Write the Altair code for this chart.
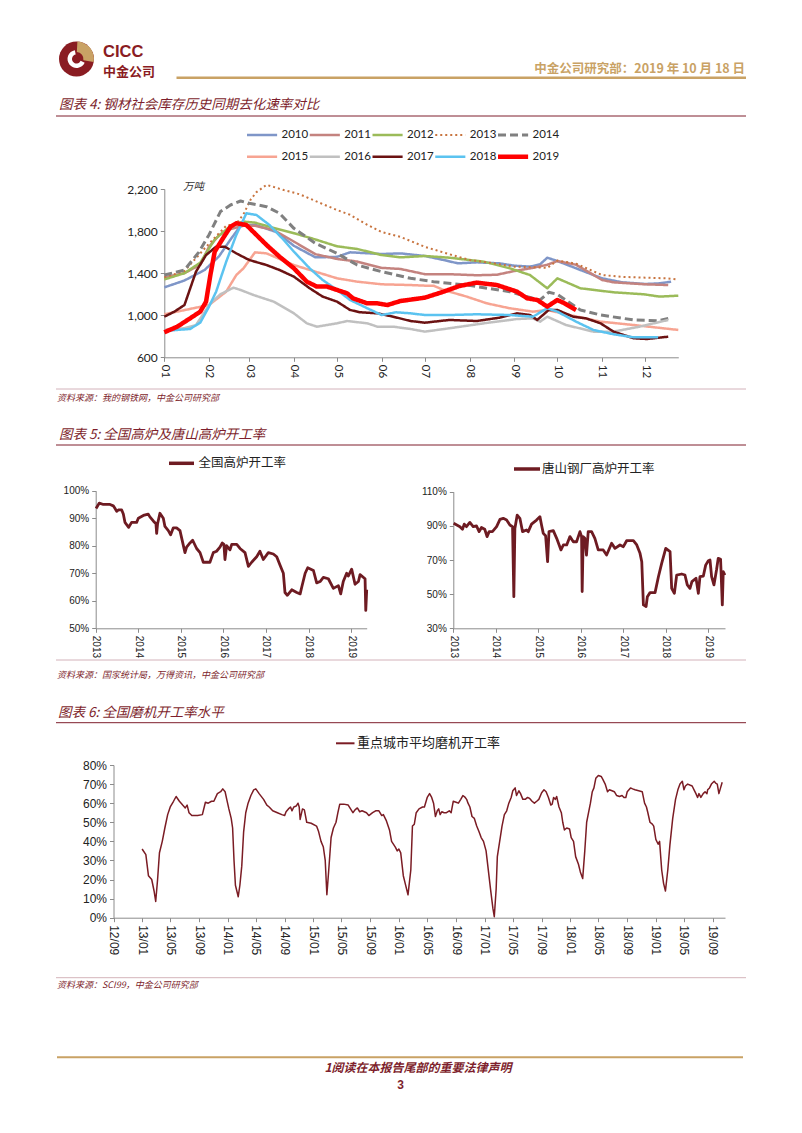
import altair as alt
import pandas as pd

# ------------------------------------------------------------------ DATA
# Figure 4: steel social inventory (10k tonnes), by calendar day of each year
years4 = ["2010", "2011", "2012", "2013", "2014", "2015", "2016", "2017", "2018", "2019"]
colors4 = ["#7F96C8", "#C4837F", "#9BBB59", "#C8743F", "#808080",
           "#F7A492", "#C0C0C0", "#6B1212", "#5BC3F0", "#FF0000"]

d2010 = ["01-01","01-15","01-29","02-08","02-16","02-23","03-05","03-20","04-01","04-16","05-01","05-10","06-01","06-14","07-01","07-14","07-24","08-06","08-22","09-01","09-12","09-19","09-24","10-01","10-17","11-01","11-15","12-01","12-11","12-19"]
v2010 = [1265,1330,1430,1560,1720,1850,1860,1790,1660,1550,1555,1598,1582,1588,1563,1525,1493,1503,1493,1471,1462,1484,1547,1515,1430,1351,1313,1297,1303,1319]
d2011 = ["01-01","01-15","01-26","02-01","02-08","02-16","02-25","03-05","03-18","04-01","04-16","05-01","05-15","06-01","06-14","07-01","07-18","08-06","08-20","09-01","09-14","09-24","10-01","10-14","11-01","11-09","12-01","12-17"]
v2011 = [1360,1400,1480,1650,1760,1820,1850,1850,1810,1700,1580,1535,1510,1450,1440,1390,1390,1380,1385,1420,1450,1480,1515,1480,1335,1313,1294,1287]
d2012 = ["01-01","01-15","01-26","02-05","02-16","02-25","03-05","03-18","04-01","04-16","05-01","05-15","06-01","06-14","07-01","07-18","08-11","08-29","09-12","09-24","10-01","10-17","11-09","11-30","12-11","12-24"]
v2012 = [1340,1400,1500,1720,1850,1890,1880,1830,1780,1720,1655,1630,1572,1550,1563,1547,1509,1446,1382,1256,1351,1256,1218,1199,1177,1186]
d2013 = ["01-01","01-15","02-01","02-13","02-20","02-25","03-02","03-06","03-13","03-25","04-05","04-17","05-01","05-10","05-22","06-01","06-14","07-01","07-18","08-01","08-15","09-01","09-17","09-24","10-01","10-14","11-01","11-15","12-01","12-17","12-24"]
v2013 = [1360,1420,1680,1850,1870,1960,2100,2170,2240,2190,2150,2080,2000,1955,1860,1790,1745,1650,1580,1525,1500,1462,1455,1450,1520,1490,1382,1365,1357,1350,1340]
d2014 = ["01-01","01-15","01-25","02-01","02-09","02-16","02-23","03-01","03-13","03-22","04-01","04-16","05-01","05-15","06-01","06-21","07-07","07-30","08-29","09-14","09-19","09-25","10-01","10-17","10-31","11-23","12-10","12-17"]
v2014 = [1382,1430,1600,1763,1985,2048,2086,2064,2032,1969,1826,1683,1588,1477,1414,1351,1319,1287,1224,1161,1145,1218,1199,1050,1002,955,948,970]
d2015 = ["01-01","02-01","02-13","02-20","02-25","03-05","03-13","04-01","04-16","05-01","05-15","06-01","06-21","07-01","07-07","07-14","07-30","08-13","08-29","09-14","09-24","10-07","10-31","11-23","12-24"]
v2015 = [1009,1097,1224,1382,1446,1598,1588,1477,1414,1351,1319,1294,1287,1281,1281,1240,1177,1113,1066,1034,1050,1009,939,907,860]
d2016 = ["01-01","01-15","01-23","02-02","02-09","02-18","02-23","03-04","03-18","04-01","04-10","04-17","05-01","05-08","05-22","05-29","06-09","06-21","07-01","07-18","08-11","09-03","09-14","09-19","09-24","10-07","10-26","11-09","11-27","12-17"]
v2016 = [860,876,907,1113,1199,1262,1240,1192,1129,1018,923,891,923,945,923,891,891,869,844,876,923,964,970,939,986,907,844,844,891,955]
d2017 = ["01-01","01-08","01-15","01-23","01-30","02-06","02-12","02-20","03-01","03-13","03-22","04-01","04-12","04-21","05-01","05-10","05-17","05-29","06-09","06-21","07-01","07-18","08-06","08-22","09-03","09-12","09-17","09-25","10-01","10-12","10-21","10-31","11-09","11-23","12-02","12-11","12-17"]
v2017 = [986,1034,1097,1414,1572,1652,1652,1588,1525,1477,1430,1367,1256,1177,1129,1050,1028,1018,986,945,929,955,945,977,1018,1002,955,1050,1050,986,970,923,844,781,774,787,796]
d2018 = ["01-01","01-19","01-26","02-01","02-06","02-13","02-20","02-27","03-06","03-15","03-25","04-01","04-12","04-21","05-01","05-10","05-22","06-01","06-11","06-21","07-01","07-18","08-06","08-29","09-14","09-24","10-01","10-14","10-26","11-09","11-23","12-10"]
v2018 = [850,870,930,1080,1224,1509,1763,1969,1953,1858,1715,1604,1446,1335,1240,1145,1066,1002,1028,1018,1002,1002,1009,1002,986,1066,1034,939,860,819,790,790]
d2019 = ["01-01","01-10","01-19","01-26","01-30","02-02","02-05","02-10","02-16","02-20","02-27","03-06","03-13","03-22","04-01","04-10","04-17","04-24","05-01","05-08","05-12","05-22","05-29","06-05","06-14","07-01","07-14","07-25","08-06","08-20","09-03","09-10","09-17","09-24","10-01","10-06","10-14"]
v2019 = [838,891,971,1034,1129,1382,1604,1715,1842,1874,1858,1763,1668,1557,1446,1319,1272,1272,1240,1208,1161,1113,1113,1097,1135,1167,1224,1278,1310,1287,1224,1161,1145,1082,1145,1113,1050]
y4_ticks = [600, 1000, 1400, 1800, 2200]

# Figure 5 (left): national blast furnace utilisation (%)
bf_name = "全国高炉开工率"
bf_dates = ["2013-01-04","2013-02-01","2013-03-08","2013-05-04","2013-06-01","2013-06-16","2013-06-30","2013-07-14","2013-08-12","2013-08-26","2013-09-09","2013-10-11","2013-11-05","2013-12-18","2014-01-02","2014-02-14","2014-03-28","2014-04-11","2014-05-10","2014-06-02","2014-06-08","2014-06-16","2014-07-06","2014-08-04","2014-08-18","2014-09-16","2014-10-06","2014-10-29","2014-11-26","2014-12-25","2015-02-06","2015-02-20","2015-03-21","2015-04-13","2015-05-17","2015-06-15","2015-07-13","2015-09-08","2015-10-07","2015-11-04","2015-12-03","2015-12-23","2016-01-06","2016-01-15","2016-01-29","2016-02-27","2016-03-13","2016-04-25","2016-05-23","2016-07-05","2016-08-03","2016-08-31","2016-10-13","2016-11-10","2016-12-09","2017-01-21","2017-03-05","2017-04-03","2017-05-01","2017-05-30","2017-06-13","2017-07-03","2017-08-10","2017-09-22","2017-10-21","2017-11-04","2017-12-03","2017-12-25","2018-02-12","2018-03-12","2018-04-10","2018-05-08","2018-06-20","2018-08-02","2018-09-14","2018-10-04","2018-10-26","2018-11-24","2018-12-08","2019-01-06","2019-02-04","2019-03-05","2019-03-19","2019-05-01","2019-05-07","2019-05-15"]
bf_vals = [93.5,95.5,95.0,95.0,94.5,93.5,92.5,93.0,93.0,91.5,88.5,86.7,88.5,88.5,90.0,91.0,91.5,90.5,89.0,88.0,84.5,88.0,91.8,90.0,87.0,85.5,84.0,86.5,86.5,85.5,77.5,79.5,81.0,82.0,79.0,77.5,74.0,74.0,77.5,78.0,79.5,81.0,80.5,75.0,80.0,78.5,80.5,80.5,79.0,77.5,72.5,74.0,76.0,78.0,75.0,77.5,77.0,76.0,73.0,70.0,63.0,62.0,64.0,63.0,62.5,65.0,70.0,72.0,71.0,66.5,67.0,68.5,68.0,64.5,65.5,62.5,67.0,70.0,69.0,71.5,66.0,67.0,69.5,68.0,56.5,64.0]
bf_ticks = [0.5, 0.6, 0.7, 0.8, 0.9, 1.0]

# Figure 5 (right): Tangshan mills blast furnace utilisation (%)
ts_name = "唐山钢厂高炉开工率"
ts_dates = ["2013-01-04","2013-01-31","2013-02-27","2013-03-21","2013-04-05","2013-04-24","2013-05-23","2013-06-21","2013-07-19","2013-08-11","2013-08-31","2013-09-28","2013-10-18","2013-11-05","2013-12-03","2014-01-08","2014-02-06","2014-03-06","2014-04-04","2014-05-02","2014-05-25","2014-06-05","2014-06-14","2014-07-04","2014-07-27","2014-08-19","2014-09-22","2014-10-07","2014-11-04","2014-12-17","2015-01-15","2015-01-29","2015-02-13","2015-03-05","2015-03-22","2015-04-03","2015-05-10","2015-06-08","2015-07-15","2015-08-04","2015-09-02","2015-09-30","2015-10-29","2015-11-26","2015-12-25","2016-01-08","2016-01-13","2016-01-22","2016-02-05","2016-02-19","2016-03-05","2016-04-03","2016-05-01","2016-05-30","2016-07-12","2016-08-10","2016-09-22","2016-10-21","2016-12-03","2017-01-01","2017-01-29","2017-03-28","2017-04-26","2017-05-24","2017-06-08","2017-06-22","2017-07-15","2017-07-26","2017-08-18","2017-09-30","2017-10-29","2017-11-26","2017-12-31","2018-02-06","2018-02-20","2018-03-15","2018-04-04","2018-05-17","2018-06-14","2018-07-04","2018-07-27","2018-08-13","2018-09-17","2018-10-07","2018-10-21","2018-11-19","2018-12-09","2019-01-01","2019-01-15","2019-01-29","2019-02-18","2019-03-12","2019-03-27","2019-04-16","2019-05-01","2019-05-09","2019-05-23"]
ts_vals = [91.5,90.5,89.5,88.0,91.0,89.5,92.0,89.5,90.0,86.6,89.0,88.0,83.7,86.6,86.6,89.5,93.8,94.4,93.4,90.5,89.5,48.5,88.5,96.3,94.4,86.6,87.6,86.6,91.0,93.4,95.4,90.5,85.6,84.2,69.0,86.6,87.2,82.7,75.9,78.8,78.8,83.7,80.7,80.7,86.6,83.7,51.5,83.7,82.7,72.9,86.6,86.6,82.7,75.9,75.9,72.9,79.8,76.8,78.8,77.8,81.3,81.3,78.8,73.9,69.0,43.7,42.7,48.5,50.9,50.9,60.2,68.0,76.8,74.9,53.4,50.5,61.2,61.8,61.2,55.4,53.4,57.3,59.3,50.5,60.2,60.6,67.0,69.6,70.0,60.2,55.4,64.1,71.0,70.4,43.7,63.2,61.2]
ts_ticks = [0.3, 0.5, 0.7, 0.9, 1.1]

# Figure 6: average grinding mill utilisation in key cities (%)
gm_name = "重点城市平均磨机开工率"
gm_dates = ["2013-01-01","2013-01-17","2013-01-28","2013-02-11","2013-02-21","2013-02-28","2013-03-08","2013-03-16","2013-03-28","2013-04-08","2013-04-20","2013-05-01","2013-05-15","2013-05-26","2013-06-09","2013-06-23","2013-07-04","2013-07-12","2013-07-20","2013-08-01","2013-08-26","2013-09-15","2013-09-28","2013-10-10","2013-10-24","2013-11-03","2013-11-18","2013-12-02","2013-12-11","2013-12-21","2013-12-28","2014-01-06","2014-01-16","2014-01-22","2014-01-28","2014-02-03","2014-02-15","2014-02-22","2014-03-02","2014-03-10","2014-03-19","2014-03-29","2014-04-10","2014-04-22","2014-05-01","2014-05-15","2014-06-03","2014-06-17","2014-06-27","2014-07-12","2014-08-01","2014-08-20","2014-09-01","2014-09-07","2014-09-17","2014-09-26","2014-10-02","2014-10-10","2014-10-20","2014-10-28","2014-11-02","2014-11-06","2014-11-16","2014-11-24","2014-12-04","2014-12-23","2015-01-15","2015-01-24","2015-02-03","2015-02-13","2015-02-21","2015-02-28","2015-03-08","2015-03-18","2015-03-28","2015-04-08","2015-04-16","2015-04-24","2015-05-11","2015-05-30","2015-06-09","2015-06-19","2015-06-28","2015-07-08","2015-07-18","2015-07-28","2015-08-16","2015-08-26","2015-09-11","2015-09-24","2015-10-08","2015-10-20","2015-10-27","2015-11-08","2015-11-22","2015-12-01","2015-12-17","2015-12-25","2016-01-01","2016-01-09","2016-01-20","2016-01-28","2016-02-09","2016-02-21","2016-02-28","2016-03-07","2016-03-15","2016-03-27","2016-04-11","2016-04-19","2016-05-01","2016-05-11","2016-05-20","2016-05-28","2016-06-05","2016-06-13","2016-06-19","2016-06-25","2016-07-02","2016-07-12","2016-07-22","2016-08-03","2016-08-11","2016-08-20","2016-09-01","2016-09-11","2016-09-21","2016-09-30","2016-10-10","2016-10-16","2016-10-22","2016-10-30","2016-11-08","2016-11-18","2016-11-28","2016-12-08","2016-12-17","2016-12-27","2017-01-07","2017-01-26","2017-02-05","2017-02-11","2017-02-19","2017-02-24","2017-03-06","2017-03-16","2017-03-26","2017-04-05","2017-04-14","2017-04-24","2017-05-01","2017-05-11","2017-05-17","2017-05-27","2017-06-03","2017-06-13","2017-06-23","2017-07-03","2017-07-12","2017-07-22","2017-08-01","2017-08-11","2017-08-20","2017-09-01","2017-09-11","2017-09-20","2017-09-30","2017-10-10","2017-10-16","2017-10-22","2017-10-29","2017-11-04","2017-11-14","2017-11-24","2017-11-30","2017-12-07","2017-12-17","2017-12-29","2018-01-05","2018-01-15","2018-01-24","2018-02-05","2018-02-13","2018-02-23","2018-03-04","2018-03-12","2018-03-20","2018-03-28","2018-04-05","2018-04-12","2018-04-20","2018-05-01","2018-05-13","2018-05-20","2018-05-30","2018-06-09","2018-06-17","2018-06-28","2018-07-08","2018-07-18","2018-07-30","2018-08-10","2018-08-18","2018-08-26","2018-09-01","2018-09-15","2018-09-24","2018-10-04","2018-10-20","2018-11-04","2018-11-14","2018-11-22","2018-11-28","2018-12-07","2018-12-17","2018-12-23","2019-01-01","2019-01-11","2019-01-17","2019-01-26","2019-02-03","2019-02-11","2019-02-21","2019-03-02","2019-03-14","2019-03-26","2019-04-05","2019-04-14","2019-04-24","2019-05-01","2019-05-07","2019-05-17","2019-05-26","2019-06-05","2019-06-13","2019-06-21","2019-06-28","2019-07-04","2019-07-12","2019-07-22","2019-07-30","2019-08-07","2019-08-10","2019-08-18","2019-08-26","2019-09-07","2019-09-13","2019-09-20","2019-09-27","2019-10-04","2019-10-11"]
gm_vals = [36,33,22,20,14,8.5,20,34,40,47,54,58,61,63.5,61,59,57.5,59,55,53.5,53.5,54,60.5,60,61,61,65,66,67.5,66,62,57,52,47,30,17,11,17,27,45,55,60,64,67,67.5,65,62,59,58,56,55,54,53.5,55.5,57,58,56,58,58.5,60,58,51.5,57,56.5,50,49.5,48,45,40,37,30,12,25,42,47,50,55,59.5,59.5,59,57,55,56.5,57.5,55.5,56,55,53.5,55,56,56,53.5,54,51,46,40,37,35,36,34,22,18,12,25,48,49,55,57,58,58,63,65,63,60,53,56,57,54,55.5,55,55,56,55,61,60.5,60,62,64,63,62,60,58,53,52,48,45,42,40,35,15,5,0.5,15,32,40,48,54,56,60,63,66.5,68,64,66.5,65,62,62,63,62.5,61,60,61,62,65.5,67,66,63,59,59.5,63,62,63.5,58,55,50,46,47,46.5,42,40,32,28,24,20.5,35,50,55,60,66,68,73,74.5,74,72.5,70,66,67,66.5,66,64,63.5,64,63,63,66,68,67.5,67,66.5,66,60,58,55,50,49,48,41,38.5,40,25,18,14,25,38,52,62,67,70,71.5,67,69,70,69.5,69,67,65,63,65,63,65,66,65,67,68,70,71.5,70.5,70,65,68,71]
gm_ticks = [0.0, 0.1, 0.2, 0.3, 0.4, 0.5, 0.6, 0.7, 0.8]

# ------------------------------------------------------------------ TABLES
series4 = {"2010": (d2010, v2010), "2011": (d2011, v2011), "2012": (d2012, v2012),
           "2013": (d2013, v2013), "2014": (d2014, v2014), "2015": (d2015, v2015),
           "2016": (d2016, v2016), "2017": (d2017, v2017), "2018": (d2018, v2018),
           "2019": (d2019, v2019)}
rows = []
for yr in years4:
    ds, vs = series4[yr]
    for d, v in zip(ds, vs):
        rows.append({"year": yr, "date": "2019-" + d + "T00:00:00", "value": v})
df4 = pd.DataFrame(rows)

leg4 = pd.DataFrame({"year": years4,
                     "col": [i % 5 for i in range(len(years4))],
                     "row": [i // 5 for i in range(len(years4))]})
leg4["col_end"] = leg4["col"] + 0.48
leg4["col_txt"] = leg4["col"] + 0.55

df_bf = pd.DataFrame({"date": [d + "T00:00:00" for d in bf_dates], "value": [v / 100 for v in bf_vals]})
df_ts = pd.DataFrame({"date": [d + "T00:00:00" for d in ts_dates], "value": [v / 100 for v in ts_vals]})
df_gm = pd.DataFrame({"date": [d + "T00:00:00" for d in gm_dates], "value": [v / 100 for v in gm_vals]})

# ------------------------------------------------------------------ STYLE
W, H = 786, 1117
CJK = "Noto Sans CJK SC"
LAT = "Liberation Sans"
CAL = "Lato"
RED = "#7E1F2D"
GOLD = "#C9A265"
AX = "#8C8C8C"
LINE5 = "#6E1B22"
LINE6 = "#7B1C24"
dashes4 = [[1, 0], [1, 0], [1, 0], [2, 3], [8, 4], [1, 0], [1, 0], [1, 0], [1, 0], [1, 0]]
widths4 = [2.5, 2.5, 2.5, 2, 3, 2.5, 2.5, 2.5, 2.5, 4.5]

one = pd.DataFrame({"k": [0]})


def label(txt, x, y, size, color="#222", weight="normal", style="normal",
          align="left", font=CJK, baseline="middle"):
    return alt.Chart(one).mark_text(text=txt, fontSize=size, color=color, fontWeight=weight,
                                    fontStyle=style, align=align, baseline=baseline,
                                    font=font).encode(x=alt.value(x), y=alt.value(y))


def hline(x1, x2, y, color, width):
    return alt.Chart(one).mark_rule(color=color, strokeWidth=width).encode(
        x=alt.value(x1), x2=alt.value(x2), y=alt.value(y))


def dt(y, m, d=1):
    return alt.DateTime(year=y, month=m, date=d)


def xaxis(offset, values, fmt, size, font):
    return alt.Axis(orient="bottom", offset=offset, values=values, format=fmt,
                    labelAngle=90, labelAlign="left", labelBaseline="middle",
                    labelPadding=3, labelFontSize=size, labelFont=font, labelColor="#222",
                    tickSize=4, tickColor=AX, domainColor=AX, grid=False, title=None,
                    labelOverlap=False, labelFlush=False, labelBound=False)


def yaxis(offset, values, fmt, size, font):
    return alt.Axis(orient="left", offset=offset, values=values, format=fmt,
                    labelFontSize=size, labelFont=font, labelColor="#222",
                    labelPadding=3, tickSize=4, tickColor=AX, domainColor=AX,
                    grid=False, title=None, labelFlush=False, labelOverlap=False)


layers = []

# ------------------------------------------------------------------ HEADER
logo = [
    alt.Chart(one).mark_arc(radius=17.5, theta=0, theta2=6.2832, color="#8A1C22").encode(x=alt.value(68.5), y=alt.value(51)),
    alt.Chart(one).mark_arc(radius=17.5, innerRadius=7, theta=0.05, theta2=1.75, color="#C9A265").encode(x=alt.value(68.5), y=alt.value(51)),
    alt.Chart(one).mark_arc(radius=9, innerRadius=4.5, theta=2.0, theta2=6.1, color="#FFFFFF").encode(x=alt.value(68.5), y=alt.value(51)),
]
layers += logo
layers += [
    label("CICC", 95, 48.5, 16.5, "#8A1C22", weight="bold", font=LAT, baseline="alphabetic"),
    label("中金公司", 95, 67.5, 13, "#8A1C22", weight="bold", baseline="alphabetic"),
    label("中金公司研究部：2019 年 10 月 18 日", 737, 61, 12.5, GOLD, weight="bold", align="right"),
    hline(168.5, 738, 69.7, GOLD, 2.5),
    label("图表 4: 钢材社会库存历史同期去化速率对比", 51, 97, 13.5, RED, style="italic"),
    hline(48, 738, 108, RED, 1),
]

# ------------------------------------------------------------------ FIGURE 4
months4 = [dt(2019, m) for m in range(1, 13)]
width_scale = alt.Scale(type="ordinal", domain=years4, range=widths4)
fig4 = alt.Chart(df4).mark_line(strokeJoin="round").encode(
    x=alt.X("date:T", scale=alt.Scale(domain=[dt(2019, 1, 1), dt(2019, 12, 24)], range=[156.3, 670.3]),
            axis=xaxis(-(H - 349.3), months4, "%m", 11.5, CAL)),
    y=alt.Y("value:Q", scale=alt.Scale(domain=[600, 2200], range=[349.3, 181], nice=False, zero=False),
            axis=yaxis(-156.3, y4_ticks, ",d", 12, CAL)),
    color=alt.Color("year:N", scale=alt.Scale(domain=years4, range=colors4), legend=None),
    strokeDash=alt.StrokeDash("year:N", scale=alt.Scale(domain=years4, range=dashes4), legend=None),
    strokeWidth=alt.StrokeWidth("year:N", scale=width_scale, legend=None),
)
leg_x = alt.Scale(domain=[0, 5], range=[239, 239 + 5 * 62.75])
leg_y = alt.Scale(domain=[0, 1], range=[127, 148.7])
fig4_leg = alt.Chart(leg4).mark_rule().encode(
    x=alt.X("col:Q", scale=leg_x, axis=None),
    x2="col_end:Q",
    y=alt.Y("row:Q", scale=leg_y, axis=None),
    color=alt.Color("year:N", scale=alt.Scale(domain=years4, range=colors4), legend=None),
    strokeDash=alt.StrokeDash("year:N", scale=alt.Scale(domain=years4, range=dashes4), legend=None),
    strokeWidth=alt.StrokeWidth("year:N", scale=width_scale, legend=None),
)
fig4_leg_txt = alt.Chart(leg4).mark_text(align="left", baseline="middle", fontSize=11.5, font=CAL, color="#222").encode(
    x=alt.X("col_txt:Q", scale=leg_x, axis=None),
    y=alt.Y("row:Q", scale=leg_y, axis=None),
    text="year:N",
)
layers += [fig4, fig4_leg, fig4_leg_txt,
           label("万吨", 175, 179, 10.5, "#333", style="italic"),
           hline(48, 738, 381, "#C8A0A8", 0.8),
           label("资料来源：我的钢铁网，中金公司研究部", 49, 390, 9, RED, style="italic")]

# ------------------------------------------------------------------ FIGURE 5
layers += [label("图表 5: 全国高炉及唐山高炉开工率", 51, 427, 13.5, RED, style="italic"),
           hline(48, 738, 437, RED, 1)]
years5 = [dt(y, 1) for y in range(2013, 2020)]
fig5a = alt.Chart(df_bf).mark_line(color=LINE5, strokeWidth=2.8, strokeJoin="round").encode(
    x=alt.X("date:T", scale=alt.Scale(domain=[dt(2013, 1, 1), dt(2019, 5, 15)], range=[87.7, 358.7]),
            axis=xaxis(-(H - 620.3), years5, "%Y", 10, LAT)),
    y=alt.Y("value:Q", scale=alt.Scale(domain=[0.5, 1.0], range=[620.3, 482.7], nice=False, zero=False),
            axis=yaxis(-87.7, bf_ticks, ".0%", 10, LAT)),
)
fig5b = alt.Chart(df_ts).mark_line(color=LINE5, strokeWidth=2.8, strokeJoin="round").encode(
    x=alt.X("date:T", scale=alt.Scale(domain=[dt(2013, 1, 1), dt(2019, 5, 24)], range=[445.3, 717]),
            axis=xaxis(-(H - 620.3), years5, "%Y", 10, LAT)),
    y=alt.Y("value:Q", scale=alt.Scale(domain=[0.3, 1.1], range=[620.3, 483.7], nice=False, zero=False),
            axis=yaxis(-445.3, ts_ticks, ".0%", 10, LAT)),
)
layers += [fig5a, fig5b,
           hline(161, 186, 455.3, LINE5, 3.5),
           label(bf_name, 190.5, 455.3, 12.5, "#222"),
           hline(506, 532, 461, LINE5, 3.5),
           label(ts_name, 534, 461, 12.5, "#222"),
           hline(48, 738, 652, "#C8A0A8", 0.8),
           label("资料来源：国家统计局，万得资讯，中金公司研究部", 49, 667, 9, RED, style="italic")]

# ------------------------------------------------------------------ FIGURE 6
layers += [label("图表 6: 全国磨机开工率水平", 50, 705, 13.5, RED, style="italic"),
           hline(48, 738, 714.7, RED, 1)]
ticks6 = []
yy, mm = 2012, 9
while (yy, mm) <= (2019, 9):
    ticks6.append(dt(yy, mm))
    mm += 4
    if mm > 12:
        mm -= 12
        yy += 1
fig6 = alt.Chart(df_gm).mark_line(color=LINE6, strokeWidth=1.5, strokeJoin="round").encode(
    x=alt.X("date:T", scale=alt.Scale(domain=[dt(2012, 9, 1), dt(2019, 10, 23)], range=[105.5, 717]),
            axis=xaxis(-(H - 909.7), ticks6, "%y/%m", 12, LAT)),
    y=alt.Y("value:Q", scale=alt.Scale(domain=[0, 0.8], range=[909.7, 757], nice=False, zero=False),
            axis=yaxis(-105.5, gm_ticks, ".0%", 12, LAT)),
)
layers += [fig6,
           hline(328, 346.5, 735.3, LINE6, 2),
           label(gm_name, 349, 735.3, 13, "#222"),
           hline(48, 738, 969.7, "#C8A0A8", 0.8),
           label("资料来源：SCI99，中金公司研究部", 49, 977, 9, RED, style="italic")]

# ------------------------------------------------------------------ FOOTER
layers += [hline(49, 735, 1049.3, GOLD, 2),
           label("1阅读在本报告尾部的重要法律声明", 410, 1060, 12, RED, weight="bold", style="italic", align="center"),
           label("3", 392.5, 1077, 12, RED, weight="bold", align="center", font=LAT)]

chart = alt.layer(*layers).resolve_scale(
    x="independent", y="independent", color="independent",
    strokeDash="independent", strokeWidth="independent",
).properties(
    width=W, height=H, padding=0, autosize=alt.AutoSizeParams(type="none"),
).configure_view(stroke=None)

chart.save("out.html", embed_options={"renderer": "svg", "actions": False})
